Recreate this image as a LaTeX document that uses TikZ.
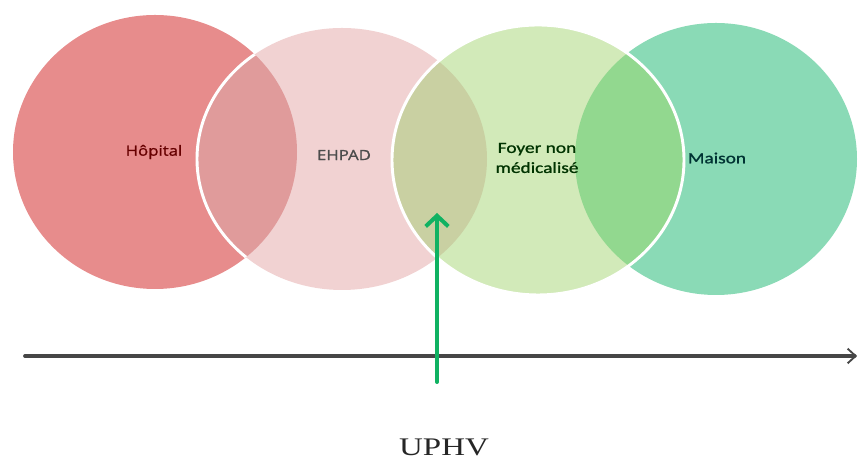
\documentclass[tikz,border=0pt]{standalone}
\usepackage{fontspec}
\setmainfont{Liberation Serif}
\newfontfamily\hopfont[FakeStretch=1.2,FakeBold=1.2]{Open Sans}
\newfontfamily\calfont[FakeStretch=1.25,FakeBold=1.2]{Carlito}
\newfontfamily\upfont[FakeStretch=1.3]{Liberation Serif}
\usetikzlibrary{arrows.meta}
\definecolor{hopcol}{RGB}{231,140,140}
\definecolor{ehpcol}{RGB}{241,210,210}
\definecolor{foycol}{RGB}{210,234,185}
\definecolor{maicol}{RGB}{138,218,182}
\definecolor{hecol}{RGB}{224,155,155}
\definecolor{efcol}{RGB}{201,208,162}
\definecolor{fmcol}{RGB}{146,216,143}
\definecolor{axcol}{RGB}{70,70,70}
\definecolor{upcol}{RGB}{16,178,98}
\begin{document}
\begin{tikzpicture}[x=0.75pt,y=0.75pt,line join=round,line cap=round,
  lbl/.style={inner sep=0pt,align=center},
  rim/.style={draw=white,line width=2.2pt}]
\useasboundingbox (0,0) rectangle (858,459);
\def\hop{(155,307) ellipse [x radius=142,y radius=137]}
\def\ehp{(342,300) ellipse [x radius=145,y radius=131]}
\def\foy{(538,299) ellipse [x radius=146,y radius=135]}
\def\mai{(716,300) ellipse [x radius=141,y radius=136]}
% circles
\fill[hopcol] \hop;
\fill[ehpcol] \ehp;
\fill[maicol] \mai;
\fill[foycol] \foy;
% overlaps
\begin{scope} \clip \hop; \fill[hecol] \ehp; \end{scope}
\begin{scope} \clip \ehp; \fill[efcol] \foy; \end{scope}
\begin{scope} \clip \mai; \fill[fmcol] \foy; \end{scope}
\begin{scope} \clip \hop; \draw[rim] \ehp; \end{scope}
\draw[rim] \foy;
% labels
\node[lbl,text=red!40!black,font=\hopfont\fontsize{10.5}{12}\selectfont] (hopital) at (154,307) {Hôpital};
\node[lbl,text=black!70,font=\hopfont\fontsize{10.5}{12}\selectfont] (ehpad) at (344,304) {EHPAD};
\node[lbl,text=green!20!black,font=\calfont\fontsize{11.6}{15}\selectfont] (foyer) at (537,301) {Foyer non\\médicalisé};
\node[lbl,text=teal!40!black,font=\calfont\fontsize{11.6}{14}\selectfont] (maison) at (717,301) {Maison};
% time axis and arrow
\coordinate (ax0) at (25,103);
\coordinate (ax1) at (857,103);
\draw[axcol,line width=2.8pt,-{Straight Barb[length=6pt,width=11pt,line width=1.4pt]}] (ax0) -- (ax1);
\coordinate (upb) at (437,77);
\coordinate (upt) at (437,246);
\draw[upcol,line width=3pt,-{Straight Barb[length=8pt,width=17pt]}] (upb) -- (upt);
\node[lbl,font=\upfont\fontsize{19}{22}\selectfont,text=black!85] (uphv) at (444,12) {UPHV};
\end{tikzpicture}
\end{document}
